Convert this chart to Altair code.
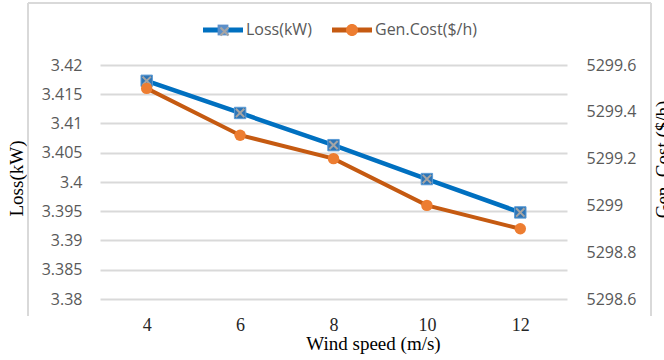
import altair as alt
import pandas as pd

# ---- data ----
wind_speed = [4, 6, 8, 10, 12]
loss_kw = [3.4173, 3.4118, 3.4063, 3.4005, 3.3948]
gen_cost = [5299.5, 5299.3, 5299.2, 5299.0, 5298.9]
series_names = ["Loss(kW)", "Gen.Cost($/h)"]
left_ticks = [3.38, 3.385, 3.39, 3.395, 3.4, 3.405, 3.41, 3.415, 3.42]
right_ticks = [5298.6, 5298.8, 5299.0, 5299.2, 5299.4, 5299.6]

df = pd.DataFrame({"wind": wind_speed, "loss": loss_kw, "cost": gen_cost})
leg_df = pd.DataFrame({"la": series_names, "lb": series_names, "lc": series_names})

W, H = 467, 234
SANS = "Open Sans"
SERIF = "Liberation Serif"
BLUE = "#0070C0"
ORANGE_LINE = "#C55A11"
ORANGE = "#ED7D31"
GRID = "#D9D9D9"

x_enc = alt.X(
    "wind:O",
    sort=wind_speed,
    scale=alt.Scale(type="point", padding=0.5),
    axis=alt.Axis(
        title="Wind speed (m/s)", titleFont=SERIF, titleFontSize=19,
        titleFontWeight="normal", titleColor="#000000",
        titleX=273, titleY=44, titleBaseline="middle", titleAnchor="start",
        titleAlign="center",
        labelFont=SERIF, labelFontSize=18, labelColor="#262626",
        labelAngle=0, labelBaseline="middle", labelPadding=26,
        domain=False, ticks=False, grid=False,
    ),
)

y_left = alt.Y(
    "loss:Q",
    scale=alt.Scale(domain=[3.38, 3.42], nice=False, zero=False),
    axis=alt.Axis(
        orient="left", values=left_ticks, format="~g",
        title="Loss(kW)", titleFont=SERIF, titleFontSize=19,
        titleFontWeight="normal", titleColor="#000000",
        titleX=-84, titleY=113, titleAngle=270, titleBaseline="middle",
        titleAlign="center",
        labelFont=SANS, labelFontSize=16, labelColor="#595959", labelPadding=18,
        domain=False, ticks=False, grid=True, gridColor=GRID, gridWidth=2,
    ),
)

y_right = alt.Y(
    "cost:Q",
    scale=alt.Scale(domain=[5298.6, 5299.6], nice=False, zero=False),
    axis=alt.Axis(
        orient="right", values=right_ticks, format="~g",
        title="Gen. Cost ($/h)", titleFont=SERIF, titleFontSize=19,
        titleFontWeight="normal", titleColor="#000000",
        titleX=95, titleY=94, titleAngle=270, titleBaseline="middle",
        titleAlign="center",
        labelFont=SANS, labelFontSize=16, labelColor="#595959", labelPadding=19,
        domain=False, ticks=False, grid=False,
    ),
)

base = alt.Chart(df)

loss_line = base.mark_line(color=BLUE, strokeWidth=4.5).encode(x=x_enc, y=y_left)
loss_sq = base.mark_point(shape="square", filled=True, size=130, fill="#2E75B6",
                          stroke="#5B9BD5", strokeWidth=1, opacity=1).encode(x=x_enc, y=y_left)
loss_x = base.mark_point(shape="M-1,-1L1,1M-1,1L1,-1", filled=False, size=70,
                         stroke="#A5A5A5", strokeWidth=2, opacity=1).encode(x=x_enc, y=y_left)
loss_layer = alt.layer(loss_line, loss_sq, loss_x)

cost_line = base.mark_line(color=ORANGE_LINE, strokeWidth=4).encode(x=x_enc, y=y_right)
cost_pt = base.mark_circle(size=130, color=ORANGE, opacity=1).encode(x=x_enc, y=y_right)
cost_layer = alt.layer(cost_line, cost_pt)

# ---- legend (three aligned legends: lines, markers, the gray X) ----
# custom symbol paths are scaled by sqrt(symbolSize)/2 = 20 px per unit
BAR = "M-1,-0.12L1,-0.12L1,0.12L-1,0.12Z"
SQ = "M-0.27,-0.27L0.27,-0.27L0.27,0.27L-0.27,0.27Z"
CIRC = "M-0.3,0A0.3,0.3 0 1,1 0.3,0A0.3,0.3 0 1,1 -0.3,0Z"
XP = "M-0.2,-0.2L0.2,0.2M-0.2,0.2L0.2,-0.2"

leg_common = dict(
    orient="none", legendX=103, legendY=-55, direction="horizontal", title=None,
    symbolSize=1600, labelFont=SANS, labelFontSize=16, labelColor="#595959",
    labelOffset=3, columnPadding=20, padding=0, symbolOpacity=1,
)

legA = alt.Chart(leg_df).mark_point(filled=True, opacity=0).encode(
    fill=alt.Fill("la:N", sort=series_names,
                  scale=alt.Scale(domain=series_names, range=[BLUE, ORANGE_LINE]),
                  legend=alt.Legend(symbolType=BAR, symbolStrokeWidth=0, **leg_common)),
)
legB = alt.Chart(leg_df).mark_point(filled=True, opacity=0).encode(
    fill=alt.Fill("lb:N", sort=series_names,
                  scale=alt.Scale(domain=series_names, range=["#5B8FC9", ORANGE]),
                  legend=alt.Legend(symbolStrokeWidth=0, labelOpacity=0, **leg_common)),
    shape=alt.Shape("lb:N", sort=series_names,
                    scale=alt.Scale(domain=series_names, range=[SQ, CIRC]),
                    legend=alt.Legend(symbolStrokeWidth=0, labelOpacity=0, **leg_common)),
)
legC = alt.Chart(leg_df).mark_point(filled=False, opacity=0).encode(
    stroke=alt.Stroke("lc:N", sort=series_names,
                      scale=alt.Scale(domain=series_names, range=["#A5A5A5", "transparent"]),
                      legend=alt.Legend(symbolType=XP, symbolStrokeWidth=2.2,
                                        symbolFillColor="transparent", labelOpacity=0,
                                        **leg_common)),
)

# ---- outer chart frame ----
frame_l = alt.Chart(df).mark_rule(color=GRID, strokeWidth=2).encode(
    x=alt.value(-72), y=alt.value(-62), y2=alt.value(251))
frame_r = alt.Chart(df).mark_rule(color=GRID, strokeWidth=2).encode(
    x=alt.value(551), y=alt.value(-62), y2=alt.value(251))
frame_t = alt.Chart(df).mark_rule(color=GRID, strokeWidth=2).encode(
    x=alt.value(-72), x2=alt.value(551), y=alt.value(-62))

chart = alt.layer(
    frame_l, frame_r, frame_t, loss_layer, cost_layer, legA, legB, legC
).resolve_scale(
    y="independent", fill="independent", shape="independent", stroke="independent"
).resolve_legend(
    fill="independent", shape="independent", stroke="independent"
).properties(
    width=W, height=H,
    autosize=alt.AutoSizeParams(type="none"),
    padding={"left": 100, "top": 65, "right": 97, "bottom": 61},
    background="white",
).configure_view(stroke=None)

chart.save("out.html", embed_options={"renderer": "svg", "actions": False})
